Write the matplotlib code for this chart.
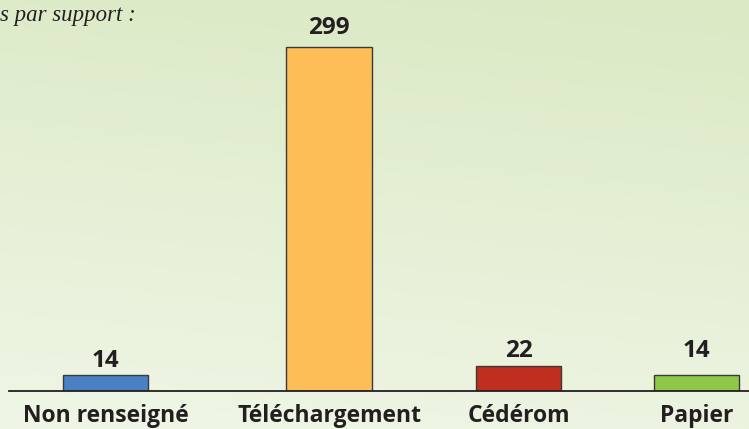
import numpy as np
import matplotlib
matplotlib.use("Agg")
import matplotlib.pyplot as plt
from matplotlib.colors import to_rgb

# ---- data ----
categories = ["Non renseigné", "Téléchargement", "Cédérom", "Papier"]
values = [14, 299, 22, 14]
title_text = "s par support :"

# ---- layout / style (kept separate from data) ----
positions = [0.0, 1.0, 1.848, 2.644]
bar_width = 0.383
colors = ["#4a80c4", "#fdbe57", "#c02e1d", "#8fc74a"]
label_offsets_px = [8, 13, 9, 18]
text_color = "#231f20"
W, H, DPI = 749, 429, 100

fig = plt.figure(figsize=(W / DPI, H / DPI), dpi=DPI)

# background gradient
bg = fig.add_axes([0, 0, 1, 1], zorder=-10)
ny, nx = 200, 200
yy, xx = np.mgrid[0:1:ny * 1j, 0:1:nx * 1j]
top = np.array(to_rgb("#dbe9c4"))
bot = np.array(to_rgb("#eff6e6"))
t = np.clip(0.85 * yy + 0.15 * (1 - xx), 0, 1)
img = top[None, None, :] * (1 - t[..., None]) + bot[None, None, :] * t[..., None]
bg.imshow(img, aspect="auto", extent=[0, 1, 0, 1], origin="upper")
bg.set_axis_off()

# main axes: bottom at the baseline
base_px = 391
ax_bottom = (H - base_px) / H
ax_left = 9.3 / W
ax = fig.add_axes([ax_left, ax_bottom, 1 - ax_left, 1 - ax_bottom])
ax.patch.set_alpha(0)
px_per_unit = 344 / 299
ax.set_ylim(0, base_px / px_per_unit)
unit_px = 223.5
ax.set_xlim((9.3 - 105.5) / unit_px, (749 - 105.5) / unit_px)

ax.bar(positions, values, width=bar_width, color=colors,
       edgecolor="#3a3a3a", linewidth=1.0, zorder=3)

for s in ["top", "right", "left"]:
    ax.spines[s].set_visible(False)
ax.spines["bottom"].set_color(text_color)
ax.spines["bottom"].set_linewidth(1.3)
ax.spines["bottom"].set_zorder(4)
ax.set_yticks([])
ax.set_xticks([])

fontfam = ["Open Sans", "DejaVu Sans"]
pt_per_px = 72 / DPI
for x, v, off in zip(positions, values, label_offsets_px):
    ax.annotate(str(v), xy=(x, v), xytext=(0, off * pt_per_px),
                textcoords="offset points", ha="center", va="baseline",
                fontsize=17.5, fontweight="bold", family=fontfam,
                color=text_color, annotation_clip=False)

for x, c in zip(positions, categories):
    ax.annotate(c, xy=(x, 0), xytext=(0, -31 * pt_per_px),
                textcoords="offset points", ha="center", va="baseline",
                fontsize=16.5, fontweight="bold", family=fontfam,
                color=text_color, annotation_clip=False)

fig.text(0.5 / W, 1 - 21 / H, title_text, ha="left", va="baseline",
         fontsize=16.5, fontstyle="italic",
         family=["Liberation Serif", "DejaVu Serif"], color=text_color)

fig.savefig("out.png", dpi=DPI)
